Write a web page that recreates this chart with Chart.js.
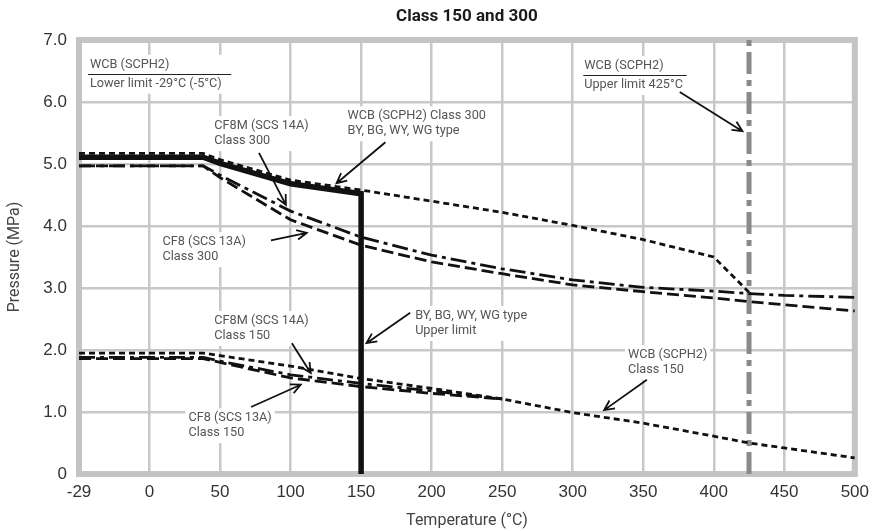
<!DOCTYPE html>
<html>
<head>
<meta charset="utf-8">
<script src="https://cdn.jsdelivr.net/npm/chart.js@4.4.0/dist/chart.umd.min.js"></script>
<style>
  html, body { margin: 0; padding: 0; background: #fff; }
</style>
</head>
<body>
<canvas id="pressureChart" width="877" height="531"></canvas>
<script>
// x tick labels (the first gap, -29 to 0, is drawn as one full step)
var xTicks = [-29, 0, 50, 100, 150, 200, 250, 300, 350, 400, 450, 500];

// WCB (SCPH2) class 300
var tempWCB300 = [-29, 38, 50, 100, 150, 200, 250, 300, 350, 400, 425];
var wcb300 = [5.17, 5.17, 5.07, 4.74, 4.58, 4.40, 4.22, 4.01, 3.78, 3.50, 2.93];

// BY, BG, WY, WG type (upper limit 150 °C)
var tempBody = [-29, 38, 50, 100, 150, 150];
var bodyLimit = [5.11, 5.11, 5.01, 4.68, 4.52, 0];

// stainless class 300
var tempSS300 = [-29, 38, 50, 100, 150, 200, 250, 300, 350, 400, 425, 450, 500];
var cf8m300 = [4.97, 4.97, 4.82, 4.24, 3.82, 3.53, 3.31, 3.13, 3.01, 2.95, 2.91, 2.88, 2.85];
var cf8300 = [4.97, 4.97, 4.78, 4.10, 3.69, 3.42, 3.23, 3.05, 2.94, 2.84, 2.78, 2.73, 2.63];

// WCB (SCPH2) class 150
var tempWCB150 = [-29, 38, 50, 100, 150, 200, 250, 300, 350, 400, 425, 450, 500];
var wcb150 = [1.95, 1.95, 1.91, 1.74, 1.54, 1.38, 1.21, 0.99, 0.82, 0.61, 0.50, 0.42, 0.26];

// stainless class 150
var tempSS150 = [-29, 38, 50, 100, 150, 200, 250];
var cf8m150 = [1.88, 1.88, 1.82, 1.60, 1.46, 1.34, 1.21];
var cf8150 = [1.86, 1.86, 1.80, 1.55, 1.41, 1.30, 1.21];

// WCB upper limit 425 °C
var tempUpper = [425, 425];
var upperLine = [0, 7];

// axis position: -29..0 is stretched to one 50-step
function axisX(t) { return t < 0 ? t * 50 / 29 : t; }
function pts(temps, vals) {
  return temps.map(function(t, i) { return { x: axisX(t), y: vals[i] }; });
}

var notes = [
  { x: -42.2, y: 6.60, gap: 19, lines: ['WCB (SCPH2)', 'Lower limit -29°C (-5°C)'], rule: { y: 6.45, x1: -43.7, x2: 57.9 } },
  { x: 308.2, y: 6.58, gap: 19, lines: ['WCB (SCPH2)', 'Upper limit 425°C'], rule: { y: 6.44, x1: 307.5, x2: 380.8 },
    arrow: [375.9, 6.16, 420.3, 5.53] },
  { x: 140.4, y: 5.77, lines: ['WCB (SCPH2) Class 300', 'BY, BG, WY, WG type'], arrow: [167.2, 5.35, 132.6, 4.69] },
  { x: 45.9, y: 5.61, lines: ['CF8M (SCS 14A)', 'Class 300'], arrow: [77.6, 5.18, 96.7, 4.34] },
  { x: 9.2, y: 3.74, lines: ['CF8 (SCS 13A)', 'Class 300'], arrow: [86.1, 3.77, 111.5, 3.89] },
  { x: 188.3, y: 2.55, lines: ['BY, BG, WY, WG type', 'Upper limit'], arrow: [184.8, 2.60, 153.8, 2.11] },
  { x: 45.9, y: 2.47, lines: ['CF8M (SCS 14A)', 'Class 150'], arrow: [100.9, 2.11, 114.3, 1.63] },
  { x: 27.6, y: 0.90, lines: ['CF8 (SCS 13A)', 'Class 150'], arrow: [72.0, 1.08, 107.2, 1.44] },
  { x: 339.2, y: 1.92, lines: ['WCB (SCPH2)', 'Class 150'], arrow: [352.6, 1.52, 322.3, 1.03] }
];

function drawArrow(ctx, x1, y1, x2, y2) {
  var a = Math.atan2(y2 - y1, x2 - x1), h = 11, s = 0.45;
  ctx.beginPath();
  ctx.moveTo(x1, y1);
  ctx.lineTo(x2, y2);
  ctx.moveTo(x2 - h * Math.cos(a - s), y2 - h * Math.sin(a - s));
  ctx.lineTo(x2, y2);
  ctx.lineTo(x2 - h * Math.cos(a + s), y2 - h * Math.sin(a + s));
  ctx.stroke();
}

var notesPlugin = {
  id: 'notes',
  beforeDatasetsDraw: function(chart) {
    var ctx = chart.ctx, area = chart.chartArea;
    var xs = chart.scales.x, ys = chart.scales.y;
    ctx.save();
    ctx.strokeStyle = '#c4c4c4';
    ctx.lineWidth = 6;
    ctx.strokeRect(area.left, area.top, area.right - area.left, area.bottom - area.top);

    ctx.font = '12.7px Roboto';
    ctx.textBaseline = 'middle';
    notes.forEach(function(n) {
      var px = xs.getPixelForValue(n.x), py = ys.getPixelForValue(n.y);
      var gap = n.gap || 15;
      var w = 0;
      n.lines.forEach(function(l) { w = Math.max(w, ctx.measureText(l).width); });
      ctx.fillStyle = '#fff';
      ctx.fillRect(px - 3, py - 10, w + 6, gap * (n.lines.length - 1) + 20);
      ctx.fillStyle = '#555';
      n.lines.forEach(function(l, i) { ctx.fillText(l, px, py + i * gap); });
      if (n.rule) {
        var ry = Math.round(ys.getPixelForValue(n.rule.y)) + 0.5;
        ctx.strokeStyle = '#222';
        ctx.lineWidth = 1.2;
        ctx.beginPath();
        ctx.moveTo(xs.getPixelForValue(n.rule.x1), ry);
        ctx.lineTo(xs.getPixelForValue(n.rule.x2), ry);
        ctx.stroke();
      }
    });
    ctx.restore();
  },
  afterDatasetsDraw: function(chart) {
    var ctx = chart.ctx, xs = chart.scales.x, ys = chart.scales.y;
    ctx.save();
    ctx.strokeStyle = '#111';
    ctx.lineWidth = 1.8;
    notes.forEach(function(n) {
      if (!n.arrow) return;
      var a = n.arrow;
      drawArrow(ctx, xs.getPixelForValue(a[0]), ys.getPixelForValue(a[1]),
        xs.getPixelForValue(a[2]), ys.getPixelForValue(a[3]));
    });
    ctx.restore();
  }
};

function line(label, temps, vals, width, dash, color) {
  return {
    label: label,
    data: pts(temps, vals),
    borderColor: color || '#111',
    borderWidth: width,
    borderDash: dash,
    pointRadius: 0,
    fill: false,
    tension: 0
  };
}

var ctx = document.getElementById('pressureChart').getContext('2d');
var chart = new Chart(ctx, {
  type: 'line',
  data: {
    datasets: [
      line('WCB Class 300', tempWCB300, wcb300, 2.8, [6, 4]),
      line('BY, BG, WY, WG type', tempBody, bodyLimit, 5.5, []),
      line('CF8M Class 300', tempSS300, cf8m300, 2.8, [16, 5, 4, 5]),
      line('CF8 Class 300', tempSS300, cf8300, 2.8, [12, 5]),
      line('WCB Class 150', tempWCB150, wcb150, 2.8, [6, 4]),
      line('CF8M Class 150', tempSS150, cf8m150, 2.8, [16, 5, 4, 5]),
      line('CF8 Class 150', tempSS150, cf8150, 2.8, [12, 5]),
      line('WCB upper limit', tempUpper, upperLine, 5, [22, 6, 6, 6], '#8a8a8a')
    ]
  },
  options: {
    responsive: false,
    animation: false,
    layout: { padding: { left: 0, right: 18, top: 0, bottom: 0 } },
    plugins: {
      legend: { display: false },
      tooltip: { enabled: false },
      title: {
        display: true,
        text: 'Class 150 and 300',
        fullSize: false,
        color: '#1a1a1a',
        font: { family: 'Roboto', size: 17, weight: 'bold' },
        padding: { top: 7, bottom: 12.6 }
      }
    },
    scales: {
      x: {
        type: 'linear',
        min: -50,
        max: 500,
        afterFit: function(s) { s.height = 57; },
        afterBuildTicks: function(s) {
          s.ticks = xTicks.map(function(t) { return { value: axisX(t) }; });
        },
        ticks: {
          autoSkip: false,
          maxRotation: 0,
          padding: 8,
          color: '#333',
          font: { family: 'Liberation Sans', size: 17 },
          callback: function(v) { return v === -50 ? '-29' : String(v); }
        },
        grid: { color: '#c8c8c8', lineWidth: 2.5, drawTicks: false },
        border: { display: false },
        title: {
          display: true,
          text: 'Temperature (°C)',
          color: '#444',
          font: { family: 'Roboto', size: 16 },
          padding: { top: 2, bottom: 0 }
        }
      },
      y: {
        min: 0,
        max: 7,
        afterFit: function(s) { s.width = 79; },
        ticks: {
          stepSize: 1,
          padding: 12,
          color: '#333',
          font: { family: 'Liberation Sans', size: 17 },
          callback: function(v) { return v === 0 ? '0' : v.toFixed(1); }
        },
        grid: { color: '#c8c8c8', lineWidth: 2.5, drawTicks: false },
        border: { display: false },
        title: {
          display: true,
          text: 'Pressure (MPa)',
          color: '#444',
          font: { family: 'Roboto', size: 16 },
          padding: { top: 5, bottom: 0 }
        }
      }
    }
  },
  plugins: [notesPlugin]
});
</script>
</body>
</html>
